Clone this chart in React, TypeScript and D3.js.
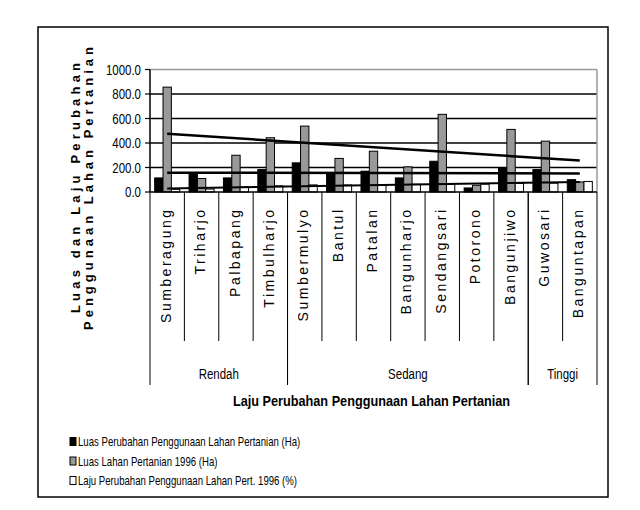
import React from 'react';
import * as d3 from 'd3';

// desa, urut dari kiri ke kanan
const villages = [
  'Sumberagung', 'Triharjo', 'Palbapang', 'Timbulharjo',
  'Sumbermulyo', 'Bantul', 'Patalan', 'Bangunharjo', 'Sendangsari', 'Potorono', 'Bangunjiwo',
  'Guwosari', 'Banguntapan',
];
const levels = [
  'Rendah', 'Rendah', 'Rendah', 'Rendah',
  'Sedang', 'Sedang', 'Sedang', 'Sedang', 'Sedang', 'Sedang', 'Sedang',
  'Tinggi', 'Tinggi',
];

const luasPerubahan = [115, 156, 115, 183, 238, 156, 170, 115, 251, 33, 197, 183, 101];
const luasLahan1996 = [856, 110, 300, 443, 538, 274, 333, 205, 634, 55, 511, 415, 82];
const lajuPerubahan = [22, 24, 40, 50, 58, 57, 56, 63, 62, 64, 72, 72, 86];

const seriesNames = [
  'Luas Perubahan Penggunaan Lahan Pertanian (Ha)',
  'Luas Lahan Pertanian 1996 (Ha)',
  'Laju Perubahan Penggunaan Lahan Pert. 1996 (%)',
];
const seriesFill = ['#000000', '#999999', '#ffffff'];
const yTicks = [0, 200, 400, 600, 800, 1000];

const arial = '"Liberation Sans", Arial, sans-serif';

// linear trend like excel: y = a + b*k, k = 1..n
function linearTrend(vals: number[]) {
  const n = vals.length;
  const ks = vals.map((_, i) => i + 1);
  const mk = d3.mean(ks)!;
  const mv = d3.mean(vals)!;
  const sxy = d3.sum(vals, (v, i) => (ks[i] - mk) * (v - mv));
  const sxx = d3.sum(ks, k => (k - mk) ** 2);
  const b = sxy / sxx;
  const a = mv - b * mk;
  return [a + b * 1, a + b * n];
}

// no narrow font installed, so squeeze Liberation Sans horizontally
const NText: React.FC<{
  x: number; y: number; size: number; anchor?: string; bold?: boolean; sx?: number; children: React.ReactNode;
}> = ({ x, y, size, anchor = 'start', bold, sx = 0.82, children }) => (
  <text
    transform={`translate(${x},${y}) scale(${sx},1)`}
    textAnchor={anchor}
    fontFamily={arial}
    fontSize={size}
    fontWeight={bold ? 'bold' : 'normal'}
  >
    {children}
  </text>
);

const App: React.FC = () => {
  const width = 640;
  const height = 510;
  const series = [luasPerubahan, luasLahan1996, lajuPerubahan];

  const x = d3.scaleBand<string>().domain(villages).range([150, 597]);
  const inner = d3.scaleBand<string>().domain(['0', '1', '2']).range([0, x.bandwidth()]).paddingOuter(0.56);
  const y = d3.scaleLinear().domain([0, 1000]).range([192, 69.5]);
  const y0 = y(0);

  // group spans for the second axis row
  const groups: { name: string; start: number; end: number }[] = [];
  levels.forEach((lv, i) => {
    const last = groups[groups.length - 1];
    if (last && last.name === lv) last.end = i;
    else groups.push({ name: lv, start: i, end: i });
  });
  const edge = (i: number) => x(villages[i])!;
  const rightEdge = (i: number) => x(villages[i])! + x.bandwidth();

  const cx = (i: number) => x(villages[i])! + x.bandwidth() / 2;
  const line = d3.line<[number, number]>();

  return (
    <svg width={width} height={height} style={{ position: 'absolute', left: 0, top: 0 }}>
      <rect x={38} y={27} width={570} height={470} fill="#fff" stroke="#000" strokeWidth={1.5} />

      {/* gridlines */}
      {yTicks.slice(1, -1).map(t => (
        <line key={t} x1={150} x2={597} y1={y(t)} y2={y(t)} stroke="#000" strokeWidth={1.6} />
      ))}
      <line x1={150} x2={597} y1={y(1000)} y2={y(1000)} stroke="#999" strokeWidth={1.5} />
      <line x1={597} x2={597} y1={y(1000)} y2={y0} stroke="#999" strokeWidth={1.5} />

      {/* bars */}
      {series.map((vals, si) => (
        <g key={si}>
          {vals.map((v, i) => (
            <rect
              key={i}
              x={x(villages[i])! + inner(String(si))!}
              y={y(v)}
              width={inner.bandwidth()}
              height={y0 - y(v)}
              fill={seriesFill[si]}
              stroke="#000"
              strokeWidth={1}
            />
          ))}
        </g>
      ))}

      {/* trend lines */}
      {series.map((vals, si) => {
        const [s, e] = linearTrend(vals);
        return (
          <path
            key={si}
            d={line([[cx(0), y(s)], [cx(vals.length - 1), y(e)]])!}
            stroke="#000"
            strokeWidth={si === 2 ? 2 : 2.5}
            fill="none"
          />
        );
      })}

      {/* y axis */}
      <line x1={150} x2={150} y1={y(1000)} y2={y0} stroke="#000" strokeWidth={1.5} />
      {yTicks.map(t => (
        <g key={t}>
          <line x1={145} x2={150} y1={y(t)} y2={y(t)} stroke="#000" strokeWidth={1.2} />
          <NText x={141} y={y(t) + 5} size={14} anchor="end">
            {d3.format('.1f')(t)}
          </NText>
        </g>
      ))}

      {/* x axis */}
      <line x1={150} x2={597} y1={y0} y2={y0} stroke="#000" strokeWidth={1.5} />
      {villages.map((v, i) => (
        <g key={v}>
          {i > 0 && levels[i] === levels[i - 1] && (
            <line x1={edge(i)} x2={edge(i)} y1={y0} y2={341} stroke="#000" strokeWidth={1} />
          )}
          <text
            transform={`translate(${cx(i) + 3.6},207.5) rotate(-90)`}
            textAnchor="end"
            fontFamily={arial}
            fontSize={14}
            letterSpacing={2.5}
          >
            {v}
          </text>
        </g>
      ))}
      {groups.map(g => (
        <g key={g.name}>
          <line x1={edge(g.start)} x2={edge(g.start)} y1={y0} y2={385} stroke="#000" strokeWidth={1} />
          <line x1={rightEdge(g.end)} x2={rightEdge(g.end)} y1={y0} y2={385} stroke="#000" strokeWidth={1} />
          <NText x={(edge(g.start) + rightEdge(g.end)) / 2} y={379} size={14} anchor="middle">
            {g.name}
          </NText>
        </g>
      ))}

      <NText x={371.5} y={406} size={15.5} anchor="middle" bold>
        Laju Perubahan Penggunaan Lahan Pertanian
      </NText>

      {/* y title, two lines */}
      <text transform="translate(80,188) rotate(-90)" textAnchor="middle" fontFamily={arial} fontWeight="bold"
        fontSize={13} textLength={250} lengthAdjust="spacing">
        Luas dan Laju Perubahan
      </text>
      <text transform="translate(93,188.5) rotate(-90)" textAnchor="middle" fontFamily={arial} fontWeight="bold"
        fontSize={13} textLength={283} lengthAdjust="spacing">
        Penggunaan Lahan Pertanian
      </text>

      {/* legend */}
      {seriesNames.map((name, si) => {
        const cy = 441.5 + si * 19.5;
        return (
          <g key={name}>
            <rect x={70} y={cy - 4} width={6} height={8} fill={seriesFill[si]} stroke="#000" strokeWidth={1} />
            <NText x={78} y={cy + 4.8} size={13} sx={0.74}>
              {name}
            </NText>
          </g>
        );
      })}
    </svg>
  );
};

export default App;
